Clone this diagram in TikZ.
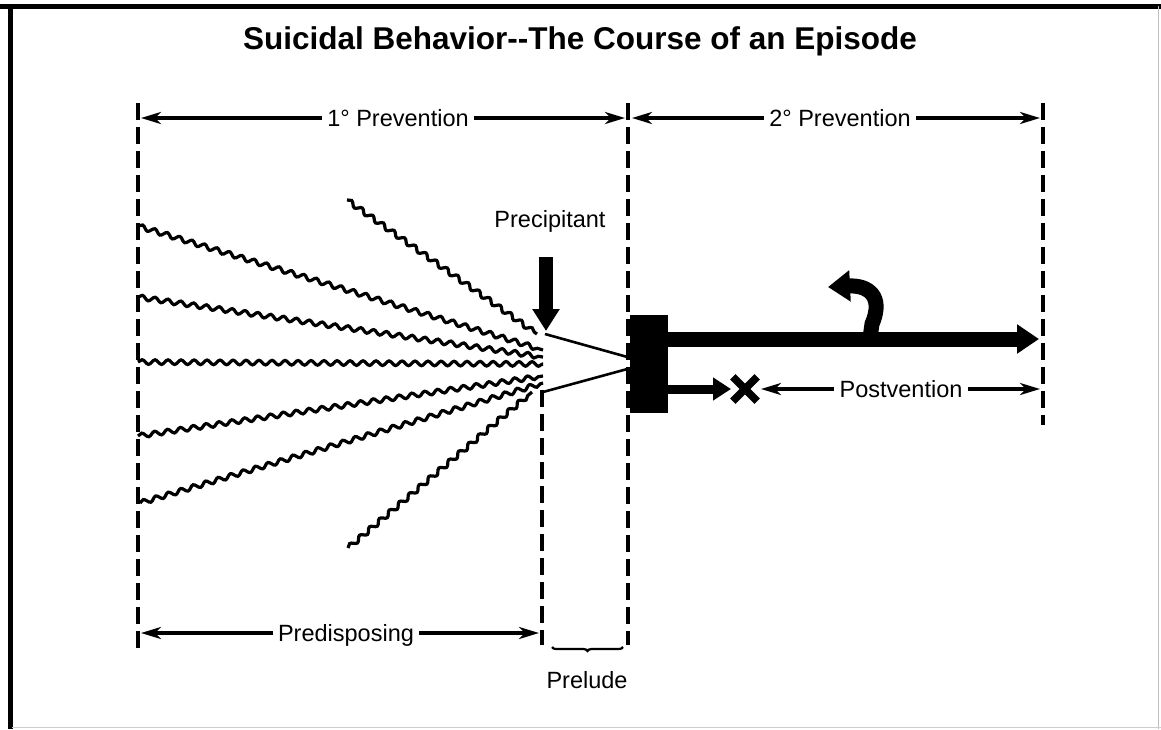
\documentclass[tikz,border=0pt]{standalone}
\usepackage{fontspec}
\setmainfont{Liberation Sans}
\usetikzlibrary{arrows.meta,decorations.pathmorphing,decorations.pathreplacing}
\begin{document}
\begin{tikzpicture}[x=1pt,y=-1pt,
  dimline/.style={line width=3.4pt,-{Stealth[length=20pt,width=12pt,inset=6pt]}},
  vdash/.style={line width=3.4pt,dash pattern=on 17pt off 7pt},
  wave/.style={line width=3.2pt,decorate,decoration={snake,amplitude=2.3pt,segment length=13pt}},
  lab/.style={font=\fontsize{23.5}{27}\selectfont,inner sep=5pt,text height=17pt,text depth=0pt},
  thinline/.style={line width=2.6pt},
  blockarrow/.style={line width=15pt,-{Triangle[length=22pt,width=28pt]}},
]
\fill[white] (0,0) rectangle (1161,729);
\useasboundingbox (0,0) rectangle (1161,729);
% frame
\draw[line width=5pt] (0,6) -- (1161,6);
\draw[line width=5pt] (10.5,4) -- (10.5,729);
\draw[gray!50,line width=1pt] (1158,6) -- (1158,729);
\draw[gray!40,line width=1pt] (12,727) -- (1161,727);
% title
\node[font=\bfseries\fontsize{31.5}{36}\selectfont,anchor=base] (title) at (580,49) {Suicidal Behavior-{}-The Course of an Episode};
% dashed verticals
\coordinate (dA1) at (138,103); \coordinate (dA2) at (138,650);
\coordinate (dB1) at (542,390); \coordinate (dB2) at (542,645);
\coordinate (dC1) at (628,103); \coordinate (dC2) at (628,645);
\coordinate (dD1) at (1043,103); \coordinate (dD2) at (1043,425);
\draw[vdash] (dA1) -- (dA2);
\draw[vdash] (dB1) -- (dB2);
\draw[vdash] (dC1) -- (dC2);
\draw[vdash] (dD1) -- (dD2);
% top dimension arrows
\node[lab] (prev1) at (398,118) {1° Prevention};
\coordinate (p1L) at (141,118); \coordinate (p1R) at (625,118);
\draw[dimline] (prev1.west) -- (p1L);
\draw[dimline] (prev1.east) -- (p1R);
\node[lab] (prev2) at (840,118) {2° Prevention};
\coordinate (p2L) at (632,118); \coordinate (p2R) at (1040,118);
\draw[dimline] (prev2.west) -- (p2L);
\draw[dimline] (prev2.east) -- (p2R);
% bottom dimension arrows
\node[lab] (pred) at (346,633) {Predisposing};
\coordinate (pdL) at (141,633); \coordinate (pdR) at (539,633);
\draw[dimline] (pred.west) -- (pdL);
\draw[dimline] (pred.east) -- (pdR);
% prelude
\coordinate (brR) at (623,647); \coordinate (brL) at (552,647);
\draw[line width=2.2pt,decorate,decoration={brace,amplitude=4pt}] (brR) -- (brL);
\node[lab] (prelude) at (587,680) {Prelude};
% precipitant
\node[lab] (precip) at (550,219) {Precipitant};
\coordinate (pa1) at (546,257); \coordinate (pa2) at (546,331);
\draw[line width=14pt,-{Triangle[length=22pt,width=26pt]}] (pa1) -- (pa2);
% wavy lines
\coordinate (w0a) at (347,200); \coordinate (w0b) at (537,334);
\coordinate (w1a) at (138,226); \coordinate (w1b) at (543,350);
\coordinate (w2a) at (138,297); \coordinate (w2b) at (543,357);
\coordinate (w3a) at (138,362); \coordinate (w3b) at (543,364);
\coordinate (w4a) at (138,436); \coordinate (w4b) at (543,376);
\coordinate (w5a) at (140,503); \coordinate (w5b) at (543,383);
\coordinate (w6a) at (348,548); \coordinate (w6b) at (532,392);
\draw[wave] (w0a) -- (w0b);
\draw[wave] (w1a) -- (w1b);
\draw[wave] (w2a) -- (w2b);
\draw[wave] (w3a) -- (w3b);
\draw[wave] (w4a) -- (w4b);
\draw[wave] (w5a) -- (w5b);
\draw[wave] (w6a) -- (w6b);
% straight lines to the event
\coordinate (cv1) at (545,334); \coordinate (cv2) at (543,392);
\node[fill=black,draw=none,minimum width=38pt,minimum height=98pt,inner sep=0pt] (box) at (649,364) {};
\coordinate (cvE1) at (631,358); \coordinate (cvE2) at (631,368);
\draw[thinline] (cv1) -- (cvE1);
\draw[thinline] (cv2) -- (cvE2);
% upper thick arrow
\coordinate (ua1) at (664,339); \coordinate (ua2) at (1039,339);
\draw[blockarrow] (ua1) -- (ua2);
% curved arrow
\coordinate (ca1) at (870,338); \coordinate (ca2) at (872,324);
\coordinate (ca3) at (884,296); \coordinate (ca4) at (868,285); \coordinate (ca5) at (828,287);
\draw[line width=15pt,-{Triangle[length=22pt,width=30pt]}] (ca1) -- (ca2) .. controls (ca3) and (ca4) .. (ca5);
% lower arrow
\coordinate (la1) at (664,389); \coordinate (la2) at (731,389);
\draw[line width=9pt,-{Triangle[length=18pt,width=22pt]}] (la1) -- (la2);
% X mark
\node[inner sep=0pt,minimum size=24pt] (xm) at (745,389) {};
\draw[line width=7.5pt] (xm.north west) -- (xm.south east);
\draw[line width=7.5pt] (xm.north east) -- (xm.south west);
% postvention
\node[lab] (post) at (901,389) {Postvention};
\coordinate (poL) at (761,389); \coordinate (poR) at (1040,389);
\draw[dimline] (post.west) -- (poL);
\draw[dimline] (post.east) -- (poR);
\end{tikzpicture}
\end{document}
